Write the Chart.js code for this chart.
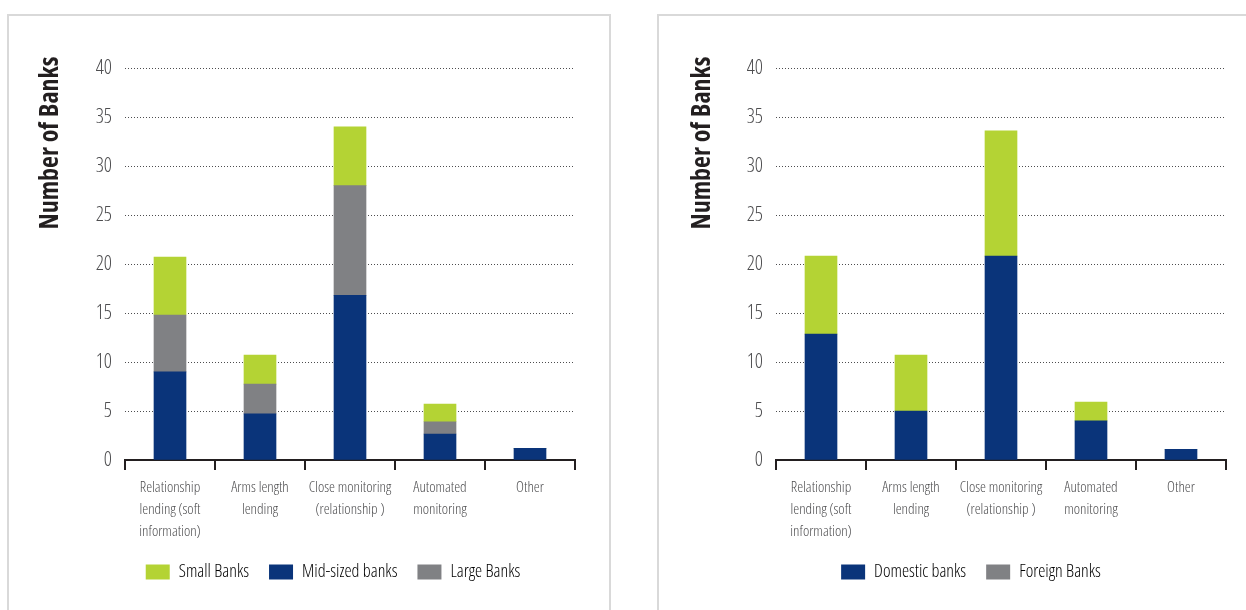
<!DOCTYPE html>
<html>
<head>
<meta charset="utf-8">
<script src="https://cdn.jsdelivr.net/npm/chart.js@4/dist/chart.umd.min.js"></script>
<style>
  body { margin: 0; background: #fff; width: 1246px; height: 610px; overflow: hidden; position: relative; }
  .panel { position: absolute; top: 14px; height: 640px; border: 2px solid #d9d9d9; box-sizing: border-box; background: #fff; }
  canvas { position: absolute; top: 16px; }
</style>
</head>
<body>
<div class="panel" style="left:7px; width:604px;"></div>
<div class="panel" style="left:657px; width:640px;"></div>
<canvas id="chartSize" width="598" height="594" style="left:10px;"></canvas>
<canvas id="chartOwner" width="586" height="594" style="left:660px;"></canvas>
<script>
// categorias y valores
var categories = [
  ['Relationship', 'lending (soft', 'information)'],
  ['Arms length', 'lending'],
  ['Close monitoring', '(relationship )'],
  ['Automated', 'monitoring'],
  ['Other']
];
var smallBanks = [5.9, 2.95, 6.0, 1.8, 0];
var midSizedBanks = [9.0, 4.7, 16.8, 2.65, 1.2];
var largeBanks = [5.8, 3.05, 11.2, 1.25, 0];

var domesticBanks = [12.85, 5.0, 20.8, 4.0, 1.1];
var foreignBanks = [7.95, 5.7, 12.8, 1.9, 0];

var yTitle = 'Number of Banks';

var GREEN = '#b4d334';
var BLUE = '#0a347a';
var GRAY = '#808184';
var FONT = '"Open Sans", sans-serif';
var LIGHT = 'condensed 300'; // Open Sans estrecha y fina, parecida a la del original
var TEXT = '#4d4d4f';

// titulo del eje Y dibujado a mano (posicion fija como en el original)
var yTitlePlugin = {
  id: 'yTitle',
  afterDraw: function(chart, args, opts) {
    var ctx = chart.ctx;
    ctx.save();
    ctx.translate(opts.x, opts.y);
    ctx.rotate(-Math.PI / 2);
    ctx.font = 'condensed bold 26px ' + FONT;
    ctx.fillStyle = '#231f20';
    ctx.textAlign = 'center';
    ctx.textBaseline = 'middle';
    ctx.fillText(yTitle, 0, 0);
    ctx.restore();
  }
};

function makeOptions(padLeft, padRight, axisWidth, titleX, legendItems) {
  return {
    responsive: false,
    devicePixelRatio: 1,
    animation: false,
    layout: { padding: { left: padLeft, right: padRight, top: 52, bottom: 19 } },
    plugins: {
      tooltip: { enabled: false },
      yTitle: { x: titleX, y: 127 },
      legend: {
        position: 'bottom',
        labels: {
          boxWidth: 24,
          boxHeight: 15,
          padding: 20,
          color: TEXT,
          font: { family: FONT, size: 18, weight: LIGHT },
          generateLabels: function() {
            return legendItems.map(function(it, i) {
              return { text: it.text, fillStyle: it.color, strokeStyle: it.color, lineWidth: 0, hidden: false, datasetIndex: i };
            });
          }
        },
        onClick: null
      }
    },
    scales: {
      x: {
        stacked: true,
        grid: {
          offset: true,
          drawOnChartArea: false,
          drawTicks: true,
          tickLength: 10,
          color: '#231f20',
          lineWidth: 2
        },
        border: { display: true, color: '#231f20', width: 2 },
        ticks: {
          color: TEXT,
          padding: 7,
          maxRotation: 0,
          autoSkip: false,
          font: { family: FONT, size: 15, weight: LIGHT, lineHeight: '22px' }
        },
        afterFit: function(s) { s.height = 83; }
      },
      y: {
        stacked: true,
        min: 0,
        max: 40,
        ticks: {
          stepSize: 5,
          color: TEXT,
          padding: 13,
          font: { family: FONT, size: 20, weight: LIGHT }
        },
        grid: { color: '#4d4d4f', lineWidth: 1, drawTicks: false },
        border: { display: false, dash: [1, 2] },
        afterFit: function(s) { s.width = axisWidth; }
      }
    }
  };
}

// Grafica 1: por tamano de banco (apilado de abajo hacia arriba: mid, large, small)
new Chart(document.getElementById('chartSize').getContext('2d'), {
  type: 'bar',
  data: {
    labels: categories,
    datasets: [
      { label: 'Mid-sized banks', data: midSizedBanks, backgroundColor: BLUE, barThickness: 32 },
      { label: 'Large Banks', data: largeBanks, backgroundColor: GRAY, barThickness: 32 },
      { label: 'Small Banks', data: smallBanks, backgroundColor: GREEN, barThickness: 32 }
    ]
  },
  options: makeOptions(81, 33, 34, 41, [
    { text: 'Small Banks', color: GREEN },
    { text: 'Mid-sized banks', color: BLUE },
    { text: 'Large Banks', color: GRAY }
  ]),
  plugins: [yTitlePlugin]
});

// Grafica 2: domesticos vs extranjeros
new Chart(document.getElementById('chartOwner').getContext('2d'), {
  type: 'bar',
  data: {
    labels: categories,
    datasets: [
      { label: 'Domestic banks', data: domesticBanks, backgroundColor: BLUE, barThickness: 32 },
      { label: 'Foreign Banks', data: foreignBanks, backgroundColor: GREEN, barThickness: 32 }
    ]
  },
  options: makeOptions(56, 20, 60, 43, [
    { text: 'Domestic banks', color: BLUE },
    { text: 'Foreign Banks', color: GRAY }
  ]),
  plugins: [yTitlePlugin]
});
</script>
</body>
</html>
